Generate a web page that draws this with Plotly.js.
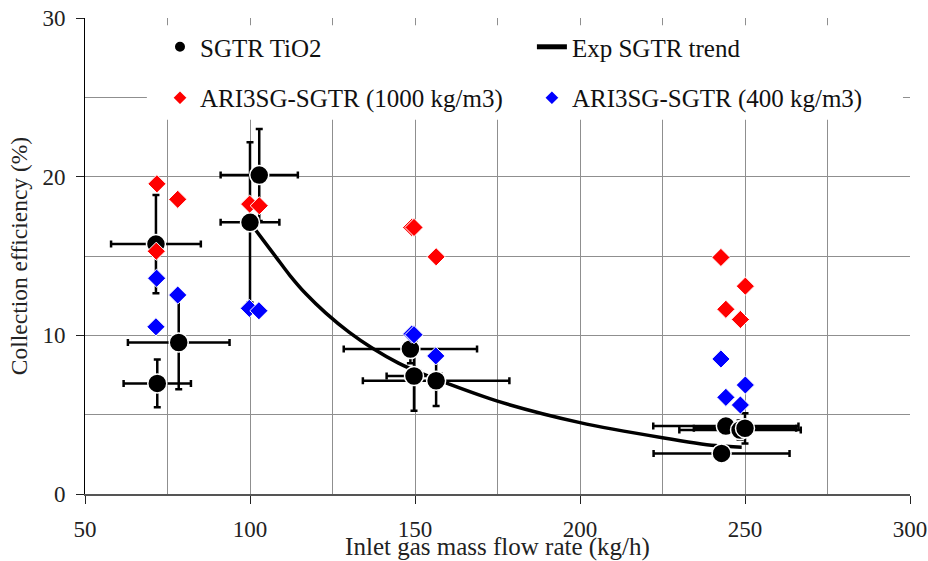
<!DOCTYPE html>
<html>
<head>
<meta charset="utf-8">
<script src="https://cdn.plot.ly/plotly-3.0.1.min.js"></script>
<style>
  html, body { margin: 0; padding: 0; background: #fff; }
  #chart { width: 928px; height: 561px; }
</style>
</head>
<body>
<div id="chart"></div>
<script>
// SGTR TiO2 measurements with error bars
const tio2X    = [71.5, 71.9, 78.4, 100.0, 102.8, 148.6, 149.7, 156.4, 244.2, 248.5, 250.0, 242.9];
const tio2Y    = [15.75, 6.97, 9.55, 17.12, 20.1, 9.14, 7.44, 7.14, 4.28, 4.03, 4.14, 2.56];
const tio2XErr = [13.6, 10.2, 15.4, 8.9, 11.7, 20.2, 8.3, 22.2, 22.0, 18.4, 15.5, 20.6];
const tio2YErr = [3.1, 1.5, 2.95, 5.05, 2.9, 0.9, 2.2, 1.6, 0.5, 0.6, 0.95, 0.37];

// Experimental SGTR trend curve
const trendX = [100, 104, 108, 112, 117, 123, 130, 137, 145, 152, 160, 175, 200, 225, 241, 249];
const trendY = [17.1, 16.0, 14.9, 13.8, 12.6, 11.4, 10.2, 9.2, 8.25, 7.6, 6.95, 5.85, 4.5, 3.55, 3.05, 2.95];

// ARI3SG-SGTR simulations, particle density 1000 kg/m3
const ari1000X = [71.8, 78.1, 71.6, 99.9, 102.8, 149.0, 149.7, 156.4, 242.7, 250.1, 244.2, 248.6];
const ari1000Y = [19.55, 18.57, 15.3, 18.27, 18.17, 16.8, 16.8, 14.95, 14.91, 13.1, 11.64, 11.0];

// ARI3SG-SGTR simulations, particle density 400 kg/m3
const ari400X = [71.7, 78.1, 71.5, 99.8, 102.7, 149.0, 149.7, 156.3, 242.7, 250.1, 244.2, 248.6];
const ari400Y = [13.6, 12.54, 10.54, 11.7, 11.55, 10.08, 10.04, 8.7, 8.51, 6.87, 6.09, 5.61];

const serif = 'Liberation Serif';
const gridColor = '#8f8f8f';

const traces = [
  {
    x: trendX, y: trendY, type: 'scatter', mode: 'lines',
    name: 'Exp SGTR trend', legend: 'legend2',
    line: { color: '#000', width: 3.5, shape: 'spline', smoothing: 0.8 },
    hoverinfo: 'skip'
  },
  {
    x: tio2X, y: tio2Y, type: 'scatter', mode: 'markers',
    name: 'SGTR TiO2', legend: 'legend',
    marker: { symbol: 'circle', size: 19, color: '#000', line: { color: '#fff', width: 1.5 } },
    error_x: { type: 'data', array: tio2XErr, visible: true, color: '#000', thickness: 2.5, width: 3.5 },
    error_y: { type: 'data', array: tio2YErr, visible: true, color: '#000', thickness: 2.5, width: 3.5 }
  },
  {
    x: ari1000X, y: ari1000Y, type: 'scatter', mode: 'markers',
    name: 'ARI3SG-SGTR (1000 kg/m3)', legend: 'legend3',
    marker: { symbol: 'diamond', size: 14, color: '#ff0000', line: { color: '#fff', width: 1 } }
  },
  {
    x: ari400X, y: ari400Y, type: 'scatter', mode: 'markers',
    name: 'ARI3SG-SGTR (400 kg/m3)', legend: 'legend4',
    marker: { symbol: 'diamond', size: 14, color: '#0000ff', line: { color: '#fff', width: 1 } }
  }
];

const legendFont = { family: serif, size: 25, color: '#111' };
const legendBase = {
  orientation: 'v', xanchor: 'left', yanchor: 'middle',
  bgcolor: 'rgba(0,0,0,0)', borderwidth: 0, font: legendFont,
  itemsizing: 'constant'
};

const layout = {
  width: 928, height: 561,
  margin: { l: 85, r: 18, t: 18, b: 67 },
  paper_bgcolor: '#fff', plot_bgcolor: '#fff',
  font: { family: serif, size: 22, color: '#222' },
  xaxis: {
    range: [50, 300], dtick: 50, tick0: 50,
    showgrid: true, gridcolor: gridColor, gridwidth: 1,
    minor: { dtick: 25, showgrid: true, gridcolor: gridColor, gridwidth: 1 },
    zeroline: false,
    showline: true, linecolor: '#555', linewidth: 2,
    ticks: 'outside', ticklen: 8, tickcolor: '#222', tickwidth: 1,
    ticklabelstandoff: 5,
    tickfont: { family: serif, size: 23, color: '#222' },
    title: { text: 'Inlet gas mass flow rate (kg/h)', font: { family: serif, size: 25, color: '#222' }, standoff: 0 },
    automargin: false
  },
  yaxis: {
    range: [0, 30], dtick: 10, tick0: 0,
    showgrid: true, gridcolor: gridColor, gridwidth: 1,
    minor: { dtick: 5, showgrid: true, gridcolor: gridColor, gridwidth: 1 },
    zeroline: false,
    showline: true, linecolor: '#000', linewidth: 1,
    ticks: 'outside', ticklen: 8, tickcolor: '#222', tickwidth: 1,
    ticklabelstandoff: 6,
    tickfont: { family: serif, size: 23, color: '#222' },
    title: { text: 'Collection efficiency (%)', font: { family: serif, size: 23.5, color: '#222' }, standoff: 8 },
    automargin: false
  },
  xaxis2: {
    overlaying: 'x', side: 'top', anchor: 'y',
    range: [50, 300], dtick: 25, tick0: 50,
    showgrid: false, zeroline: false, showticklabels: false,
    showline: true, linecolor: '#999', linewidth: 1,
    ticks: 'inside', ticklen: 6, tickcolor: '#999'
  },
  yaxis2: {
    overlaying: 'y', side: 'right', anchor: 'x',
    range: [0, 30], dtick: 5, tick0: 0,
    showgrid: false, zeroline: false, showticklabels: false,
    showline: true, linecolor: '#999', linewidth: 1,
    ticks: 'inside', ticklen: 6, tickcolor: '#999'
  },
  shapes: [
    // white backdrop behind the legend block
    { type: 'rect', xref: 'paper', yref: 'paper', layer: 'above',
      x0: 0.075, x1: 0.9915, y0: 0.786, y1: 0.985,
      fillcolor: '#fff', line: { width: 0 } }
  ],
  legend:  Object.assign({}, legendBase, { x: 0.0909, y: 0.939 }),
  legend2: Object.assign({}, legendBase, { x: 0.5417, y: 0.939 }),
  legend3: Object.assign({}, legendBase, { x: 0.0909, y: 0.832 }),
  legend4: Object.assign({}, legendBase, { x: 0.5417, y: 0.832 }),
  showlegend: true
};

Plotly.newPlot('chart', traces, layout, { displayModeBar: false, staticPlot: true });
</script>
</body>
</html>
